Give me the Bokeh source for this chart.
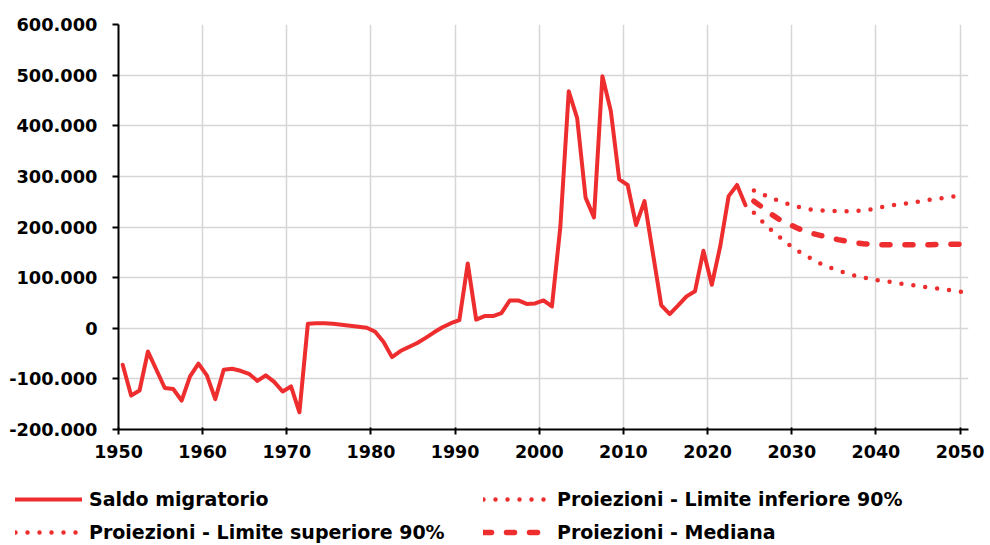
import numpy as np
from bokeh.plotting import figure
from bokeh.layouts import column
from bokeh.models import Legend, LegendItem, FixedTicker, Range1d
from bokeh.embed import file_html
from bokeh.resources import INLINE

# ---------------- data ----------------
years_hist = list(range(1950, 2025))
saldo_migratorio = [
    -72000, -133000, -123000, -46000, -82000, -118000, -120000, -143000, -95000, -70000,
    -93000, -140000, -82000, -80000, -84000, -90000, -104000, -93000, -106000, -125000,
    -115000, -166000, 9000, 10000, 10000, 9000, 7000, 5000, 3000, 1000,
    -7000, -27000, -57000, -45000, -37000, -29000, -19000, -8000, 2000, 10000,
    16000, 128000, 17000, 24000, 24000, 30000, 55000, 55000, 48000, 49000,
    55000, 43000, 200000, 468000, 415000, 258000, 219000, 498000, 429000, 294000,
    283000, 204000, 251000, 148000, 45000, 28000, 45000, 63000, 73000, 153000,
    86000, 162000, 261000, 283000, 243000,
]

years_proj = list(range(2025, 2051))
limite_inferiore = [
    228000, 211000, 195000, 181000, 167000, 155000, 145000, 136000, 127000, 120000,
    114000, 109000, 104000, 100000, 97000, 94000, 92000, 89000, 87000, 85000,
    82000, 80000, 78000, 76000, 74000, 71000,
]
limite_superiore = [
    272000, 265000, 258000, 251000, 246000, 241000, 237000, 234000, 233000, 232000,
    231000, 231000, 231000, 233000, 235000, 239000, 242000, 244000, 246000, 249000,
    251000, 254000, 256000, 259000, 261000, 263000,
]
mediana = [
    251000, 239000, 226000, 215000, 207000, 199000, 192000, 187000, 183000, 179000,
    175000, 172000, 169000, 167000, 166000, 165000, 165000, 165000, 165000, 165000,
    165000, 165000, 166000, 166000, 166000, 166000,
]

x_ticks = list(range(1950, 2051, 10))
y_ticks = [-200000, -100000, 0, 100000, 200000, 300000, 400000, 500000, 600000]
y_tick_labels = ["-200.000", "-100.000", "0", "100.000", "200.000",
                 "300.000", "400.000", "500.000", "600.000"]

legend_labels = ["Saldo migratorio", "Proiezioni - Limite inferiore 90%",
                 "Proiezioni - Limite superiore 90%", "Proiezioni - Mediana"]

# values are annual figures, drawn at mid-year
x_hist = np.array(years_hist) + 0.5
x_proj = np.array(years_proj) + 0.5

RED = "#EE2D2F"
FONT = "DejaVu Sans"

styles = {
    "saldo": dict(line_color=RED, line_width=4, line_join="round", line_cap="round"),
    "dot": dict(line_color=RED, line_width=4.5, line_dash="0 12", line_cap="round"),
    "dash": dict(line_color=RED, line_width=5.5, line_dash="8 15", line_cap="round"),
}

p = figure(width=988, height=470, output_backend="svg", toolbar_location=None,
           x_range=Range1d(1950, 2051), y_range=Range1d(-200000, 600000),
           min_border_left=118, min_border_right=20, min_border_top=24,
           min_border_bottom=41, frame_align=False)
p.outline_line_color = None
p.background_fill_color = "white"
p.border_fill_color = "white"

r_saldo = p.line(x_hist, saldo_migratorio, **styles["saldo"])
r_inf = p.line(x_proj, limite_inferiore, **styles["dot"])
r_sup = p.line(x_proj, limite_superiore, **styles["dot"])
r_med = p.line(x_proj, mediana, **styles["dash"])

# axes
xa = p.xaxis[0]
xa.ticker = FixedTicker(ticks=x_ticks)
xa.minor_tick_line_color = None
xa.axis_line_width = 2
xa.axis_line_color = "black"
xa.major_tick_line_width = 2
xa.major_tick_line_color = "black"
xa.major_tick_in = 2
xa.major_tick_out = 5
xa.major_label_standoff = 10
xa.major_label_text_font = FONT
xa.major_label_text_font_style = "bold"
xa.major_label_text_font_size = "17.5px"
xa.major_label_text_color = "black"

ya = p.yaxis[0]
ya.ticker = FixedTicker(ticks=y_ticks)
ya.major_label_overrides = {v: s for v, s in zip(y_ticks, y_tick_labels)}
ya.minor_tick_line_color = None
ya.axis_line_width = 2
ya.axis_line_color = "black"
ya.major_tick_line_width = 2
ya.major_tick_line_color = "black"
ya.major_tick_in = 0
ya.major_tick_out = 6
ya.major_label_standoff = 15
ya.major_label_text_font = FONT
ya.major_label_text_font_style = "bold"
ya.major_label_text_font_size = "17.8px"
ya.major_label_text_color = "black"

p.xgrid.ticker = FixedTicker(ticks=x_ticks)
p.ygrid.ticker = FixedTicker(ticks=y_ticks)
for g in (p.xgrid[0], p.ygrid[0]):
    g.grid_line_color = "#d6d6d6"
    g.grid_line_width = 1.5

# ---------------- legend (separate strip below the chart) ----------------
lg = figure(width=988, height=73, output_backend="svg", toolbar_location=None,
            x_range=Range1d(0, 1), y_range=Range1d(0, 1),
            x_axis_location=None, y_axis_location=None,
            min_border_left=0, min_border_right=0,
            min_border_top=0, min_border_bottom=0, frame_align=False)
lg.outline_line_color = None
lg.grid.visible = False
lg.background_fill_color = "white"
lg.border_fill_color = "white"

# legend proxies: same styles, no visible data
k_saldo = lg.line([np.nan], [np.nan], **styles["saldo"])
k_inf = lg.line([np.nan], [np.nan], **styles["dot"])
k_sup = lg.line([np.nan], [np.nan], **styles["dot"])
k_med = lg.line([np.nan], [np.nan], **styles["dash"])

legend = Legend(
    items=[LegendItem(label=legend_labels[0], renderers=[k_saldo]),
           LegendItem(label=legend_labels[1], renderers=[k_inf]),
           LegendItem(label=legend_labels[2], renderers=[k_sup]),
           LegendItem(label=legend_labels[3], renderers=[k_med])],
    location=(15, 0), orientation="horizontal", ncols=2,
    glyph_width=67, glyph_height=20, label_standoff=7, label_width=383,
    label_height=20, spacing=11, padding=0, margin=0,
    border_line_color=None, background_fill_alpha=0,
    label_text_font=FONT, label_text_font_style="bold",
    label_text_font_size="19px", label_text_color="black",
)
lg.add_layout(legend)

layout = column(p, lg, spacing=0)
open("out.html", "w").write(file_html(layout, INLINE))
